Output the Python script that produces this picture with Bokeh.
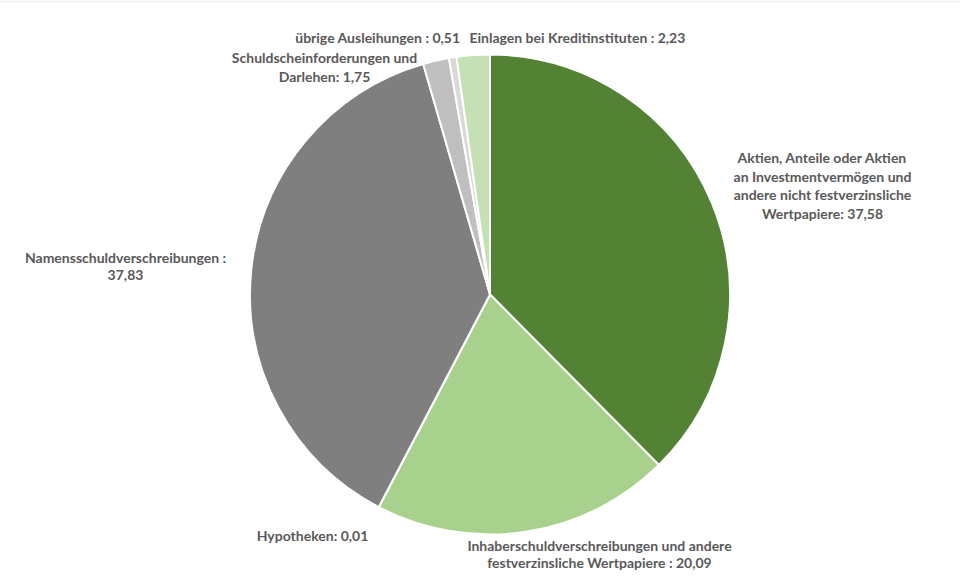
import math
from bokeh.plotting import figure
from bokeh.models import Range1d, ColumnDataSource
from bokeh.core.properties import value
from bokeh.embed import file_html
from bokeh.resources import INLINE

# ---- data ----
categories = [
    "Aktien, Anteile oder Aktien an Investmentvermögen und andere nicht festverzinsliche Wertpapiere",
    "Inhaberschuldverschreibungen und andere festverzinsliche Wertpapiere",
    "Hypotheken",
    "Namensschuldverschreibungen",
    "Schuldscheinforderungen und Darlehen",
    "übrige Ausleihungen",
    "Einlagen bei Kreditinstituten",
]
values = [37.58, 20.09, 0.01, 37.83, 1.75, 0.51, 2.23]
colors = ["#548235", "#A9D18E", "#375623", "#7F7F7F", "#BFBFBF", "#D9D9D9", "#C5E0B4"]

label_lines = [
    ["Aktien, Anteile oder Aktien", "an Investmentvermögen und", "andere nicht festverzinsliche", "Wertpapiere: 37,58"],
    ["Inhaberschuldverschreibungen und andere", "festverzinsliche Wertpapiere : 20,09"],
    ["Hypotheken: 0,01"],
    ["Namensschuldverschreibungen :", "37,83"],
    ["Schuldscheinforderungen und", "Darlehen: 1,75"],
    ["übrige Ausleihungen : 0,51"],
    ["Einlagen bei Kreditinstituten : 2,23"],
]

# ---- layout (page pixel coordinates) ----
W, H = 960, 572
PAGE_H = 588
def ty(page_y):
    return PAGE_H - page_y

cx, cy_page, R = 497.5, 302, 240
label_pos = [  # (anchor x, first line y, line step, align)
    (830, 165, 18.5, "center"),
    (607, 553, 17, "center"),
    (320, 543, 0, "center"),
    (133, 265, 17.5, "center"),
    (332, 65, 19, "center"),
    (468, 45, 0, "right"),
    (477, 45, 0, "left"),
]

total = sum(values)
starts, ends = [], []
cum = 0.0
for v in values:
    starts.append(math.pi / 2 - 2 * math.pi * cum / total)
    cum += v
    ends.append(math.pi / 2 - 2 * math.pi * cum / total)

src = ColumnDataSource(dict(
    x=[cx] * len(values), y=[ty(cy_page)] * len(values),
    start=starts, end=ends, color=colors, cat=categories, val=values,
))

p = figure(width=W, height=H, output_backend="svg", toolbar_location=None,
           x_range=Range1d(8, 968), y_range=Range1d(ty(580), ty(10)),
           min_border_top=2, min_border_left=0, min_border_right=0, min_border_bottom=0)
p.axis.visible = False
p.grid.visible = False
p.outline_line_color = None
p.border_fill_color = "#EFF0F2"
p.background_fill_color = "white"

p.wedge(x="x", y="y", radius=R, start_angle="start", end_angle="end",
        direction="clock", fill_color="color", line_color="white", line_width=2,
        source=src)

groups = {}
for lines, (lx, ly, step, align) in zip(label_lines, label_pos):
    g = groups.setdefault(align, dict(x=[], y=[], text=[]))
    for i, line in enumerate(lines):
        g["x"].append(lx)
        g["y"].append(ty(ly + i * step))
        g["text"].append(line)

for align, g in groups.items():
    p.text(x="x", y="y", text="text", source=ColumnDataSource(g),
           text_align=align, text_baseline="middle",
           text_font=value("Lato"), text_font_size="14px",
           text_font_style="bold", text_color="#595959")

open("out.html", "w").write(file_html(p, INLINE))
